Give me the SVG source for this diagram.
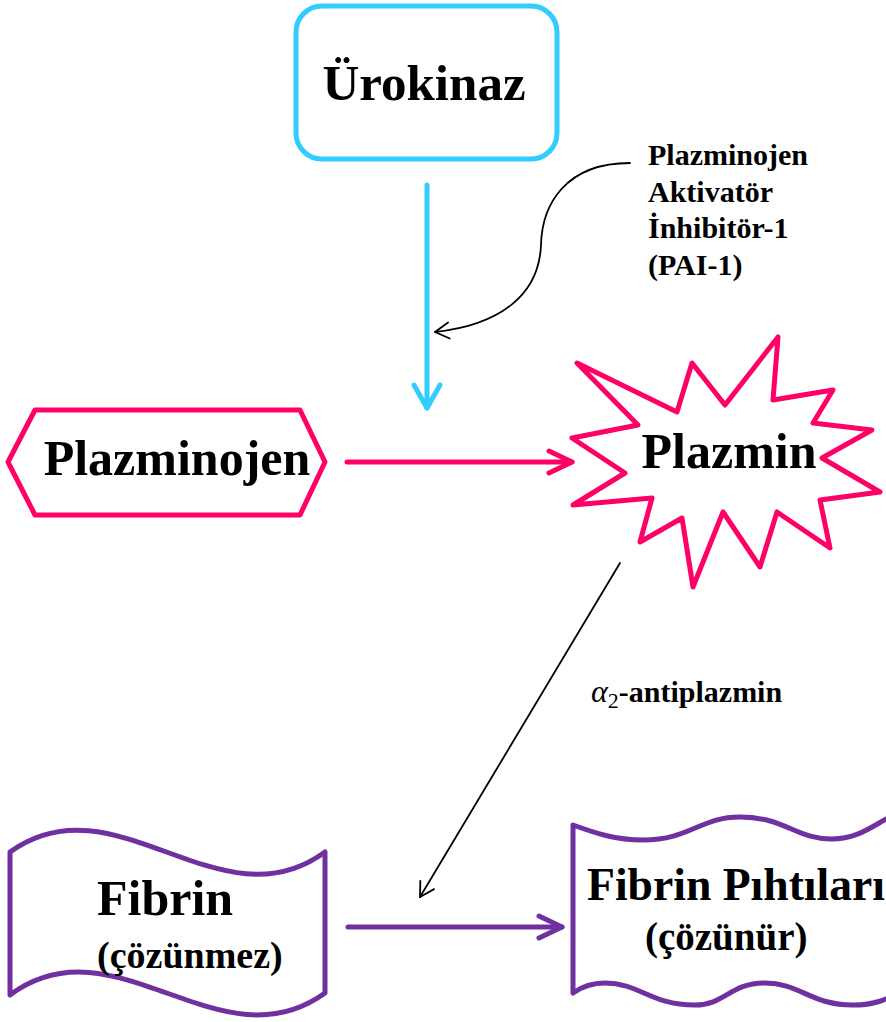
<svg xmlns="http://www.w3.org/2000/svg" width="886" height="1022" viewBox="0 0 886 1022">
  <style>
    .t { font-family: "Liberation Serif", "Times New Roman", serif; font-weight: bold; fill: #000; }
    .blue { fill: #fff; stroke: #33CCFF; stroke-width: 5; }
    .pink { fill: #fff; stroke: #FF0066; stroke-width: 5; stroke-linejoin: round; }
    .purple { fill: #fff; stroke: #7030A0; stroke-width: 5; stroke-linejoin: round; }
    .conn { fill: none; stroke-linecap: round; }
  </style>
  <defs>
    <marker id="mBlack" markerUnits="userSpaceOnUse" viewBox="-16 -10 20 20" refX="0" refY="0" markerWidth="20" markerHeight="20" orient="auto">
      <path d="M-14,-8 L0,0 L-14,8" fill="none" stroke="#000" stroke-width="1.8" stroke-linecap="round" stroke-linejoin="round"/>
    </marker>
    <marker id="mBlue" markerUnits="userSpaceOnUse" viewBox="-28 -16 32 32" refX="0" refY="0" markerWidth="32" markerHeight="32" orient="auto">
      <path d="M-23,-13 L0,0 L-23,13" fill="none" stroke="#33CCFF" stroke-width="5" stroke-linecap="round" stroke-linejoin="round"/>
    </marker>
    <marker id="mPink" markerUnits="userSpaceOnUse" viewBox="-28 -16 32 32" refX="0" refY="0" markerWidth="32" markerHeight="32" orient="auto">
      <path d="M-23,-11 L0,0 L-23,11" fill="none" stroke="#FF0066" stroke-width="5" stroke-linecap="round" stroke-linejoin="round"/>
    </marker>
    <marker id="mPurple" markerUnits="userSpaceOnUse" viewBox="-28 -16 32 32" refX="0" refY="0" markerWidth="32" markerHeight="32" orient="auto">
      <path d="M-23,-11 L0,0 L-23,11" fill="none" stroke="#7030A0" stroke-width="5" stroke-linecap="round" stroke-linejoin="round"/>
    </marker>
  </defs>
  <rect width="886" height="1022" fill="#fff"/>

  <g id="urokinaz">
    <rect class="blue" x="296" y="6" width="261" height="153" rx="26"/>
    <text class="t" x="424" y="100" font-size="51" text-anchor="middle">Ürokinaz</text>
  </g>

  <g id="plazminojen">
    <polygon class="pink" points="8,462 35,410 300,410 325,462 300,515 35,515"/>
    <text class="t" x="177" y="475" font-size="50" text-anchor="middle">Plazminojen</text>
  </g>

  <g id="plazmin">
    <polygon class="pink" points="577,363 677,412 692,363 725,405 778,337 773,400 833,390 813,423 872,430 822,458 880,492 820,500 830,548 777,512 760,567 723,512 693,587 682,518 640,542 652,498 573,505 625,473 572,438 638,425"/>
    <text class="t" x="729" y="468" font-size="50" text-anchor="middle">Plazmin</text>
  </g>

  <g id="fibrin">
    <path class="purple" d="M10,852 C115,776 220,929 325,852 L325,993 C220,1069 115,917 10,995 Z"/>
    <text class="t" x="97" y="915" font-size="50">Fibrin</text>
    <text class="t" x="97" y="968" font-size="38">(çözünmez)</text>
  </g>

  <g id="fibrin-pihtilari">
    <path class="purple" d="M573,825 C595,833 615,840 643,840 C690,840 700,817 740,817 C785,817 795,839 832,839 C862,839 875,822 905,810 L905,990 C885,1000 875,1005 853,1005 C810,1005 800,983 765,983 C730,983 725,1005 695,1005 C650,1005 640,983 605,983 C590,983 580,988 573,993 Z"/>
    <text class="t" x="587" y="900" font-size="46" textLength="298" lengthAdjust="spacingAndGlyphs">Fibrin Pıhtıları</text>
    <text class="t" x="645" y="950" font-size="39">(çözünür)</text>
  </g>

  <g id="pai1-label">
    <text class="t" font-size="30">
      <tspan x="648" y="165">Plazminojen</tspan>
      <tspan x="648" y="202">Aktivatör</tspan>
      <tspan x="648" y="238">İnhibitör-1</tspan>
      <tspan x="648" y="275">(PAI-1)</tspan>
    </text>
  </g>

  <g id="antiplazmin-label">
    <text class="t" font-size="30" x="591" y="702"><tspan font-style="italic" font-weight="normal" font-size="32">α</tspan><tspan font-weight="normal" font-size="22" dy="6">2</tspan><tspan dy="-6">-antiplazmin</tspan></text>
  </g>

  <g id="connectors">
    <line class="conn" x1="427" y1="185" x2="427" y2="408" stroke="#33CCFF" stroke-width="5" marker-end="url(#mBlue)"/>
    <line class="conn" x1="347" y1="462" x2="572" y2="462" stroke="#FF0066" stroke-width="5" marker-end="url(#mPink)"/>
    <line class="conn" x1="348" y1="927" x2="562" y2="927" stroke="#7030A0" stroke-width="5" marker-end="url(#mPurple)"/>
    <path class="conn" d="M630,163 C565,163 542,205 541,245 C539,295 500,325 435,332" stroke="#000" stroke-width="1.8" marker-end="url(#mBlack)"/>
    <line class="conn" x1="620" y1="563" x2="420" y2="897" stroke="#000" stroke-width="1.8" marker-end="url(#mBlack)"/>
  </g>
</svg>
